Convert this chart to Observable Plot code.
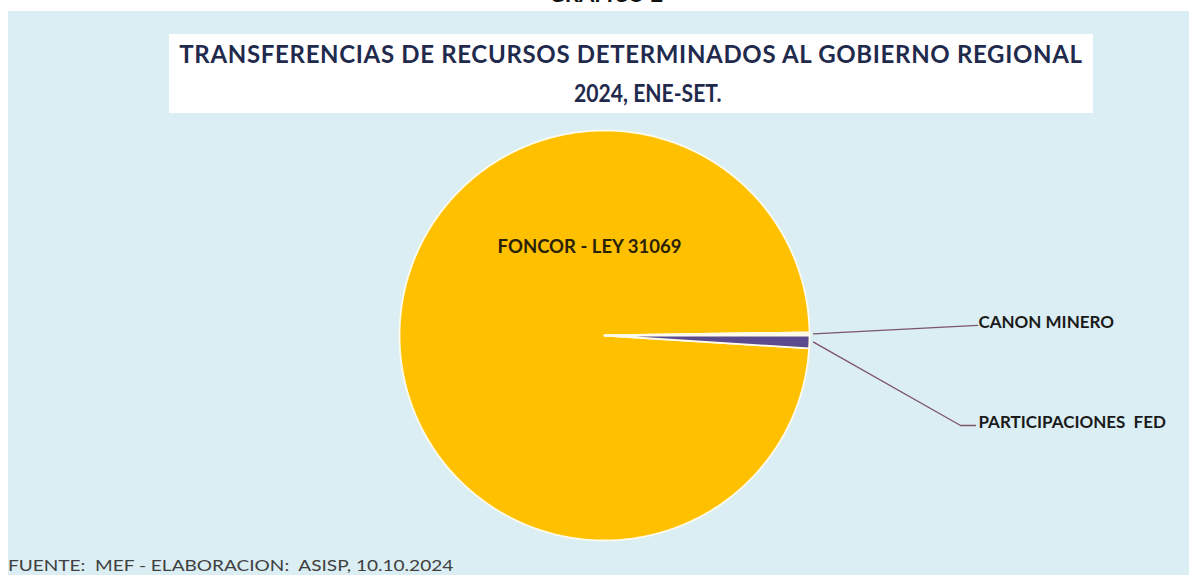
<!DOCTYPE html>
<html>
<head>
<meta charset="utf-8">
<script src="https://cdn.jsdelivr.net/npm/d3@7"></script>
<script src="https://cdn.jsdelivr.net/npm/@observablehq/plot@0.6"></script>
<style>
  body { margin: 0; background: #ffffff; font-family: Lato, "Open Sans", sans-serif; }
  #page { position: relative; width: 1189px; height: 575px; overflow: hidden; background: #fff; }
  #panel { position: absolute; left: 8px; top: 11px; right: 0; bottom: 0; background: #DAEEF3; }
  #grafico { position: absolute; left: 0; width: 1212px; top: -17.5px; line-height: 22px; text-align: center; font-weight: bold; font-size: 22px; color: #111; }
  #titlebox { position: absolute; left: 169px; top: 34px; width: 924px; height: 79px; background: #ffffff; }
  .t { position: absolute; left: 0; width: 100%; text-align: center; font-weight: bold; color: #1f2a4d; white-space: nowrap; }
  #t1 { top: 7.7px; font-size: 24px; line-height: 24px; letter-spacing: 0.67px; }
  #t2 { top: 46.5px; font-size: 24px; line-height: 24px; padding-left: 34px; box-sizing: border-box; }
  #t2 span { display: inline-block; transform: scaleX(0.88); transform-origin: 50% 50%; }
  #foot { position: absolute; left: 8px; top: 556.8px; font-size: 16px; line-height: 16px; color: #404040; white-space: pre; transform: scaleX(1.19); transform-origin: 0 0; }
  #chart { position: absolute; left: 0; top: 0; }
</style>
</head>
<body>
<div id="page">
  <div id="panel"></div>
  <div id="grafico">GRAFICO 2</div>
  <div id="titlebox">
    <div class="t" id="t1">TRANSFERENCIAS DE RECURSOS DETERMINADOS AL GOBIERNO REGIONAL</div>
    <div class="t" id="t2"><span>2024, ENE-SET.</span></div>
  </div>
  <div id="chart"></div>
  <div id="foot">FUENTE:  MEF - ELABORACION:  ASISP, 10.10.2024</div>
</div>
<script>
// ---- data ----
const categories = ["FONCOR - LEY 31069", "CANON MINERO", "PARTICIPACIONES  FED"];
const values = [98.75, 0.25, 1.0];
const colors = ["#FFC000", "#FBF6E2", "#5B4A8E"];

// ---- layout (pie geometry in px, label anchors in pie-radius units) ----
const W = 1189, H = 575, CX = 604, CY = 335, R = 205;
const firstSliceAngle = 93.6; // degrees clockwise from 12 o'clock
const labelAnchors = [
  {x: -0.073, y: 0.43, anchor: "middle", leader: null},
  {x: 1.824, y: 0.063, anchor: "start", leader: [[1.82, 0.049]]},
  {x: 1.824, y: -0.424, anchor: "start", leader: [[1.737, -0.439], [1.81, -0.439]]}
];

const total = d3.sum(values);
let acc = firstSliceAngle;
const slices = categories.map((name, i) => {
  const a0 = acc, a1 = acc + values[i] / total * 360;
  acc = a1;
  return {name, value: values[i], color: colors[i], a0, a1, mid: (a0 + a1) / 2};
});

const toXY = (deg, r) => {
  const t = deg * Math.PI / 180;
  return {x: r * Math.sin(t), y: r * Math.cos(t)};
};

const sliceMarks = slices.map(s => {
  const n = Math.max(3, Math.ceil((s.a1 - s.a0) / 0.5));
  const pts = [{x: 0, y: 0}];
  for (let k = 0; k <= n; k++) pts.push(toXY(s.a0 + (s.a1 - s.a0) * k / n, 1));
  pts.push({x: 0, y: 0});
  return Plot.line(pts, {x: "x", y: "y", fill: s.color, stroke: "#FFFBEA", strokeWidth: 1.8, strokeLinejoin: "round", curve: "linear"});
});

const leaderMarks = slices.map((s, i) => {
  const la = labelAnchors[i];
  if (!la.leader) return null;
  const pts = [toXY(s.mid, 1.02), ...la.leader.map(([x, y]) => ({x, y}))];
  return Plot.line(pts, {x: "x", y: "y", stroke: "#7E5467", strokeWidth: 1.3});
}).filter(Boolean);

const labelData = slices.map((s, i) => ({name: s.name, ...labelAnchors[i]}));

const chart = Plot.plot({
  width: W, height: H,
  margin: 0,
  x: {domain: [-CX / R, (W - CX) / R], axis: null},
  y: {domain: [-(H - CY) / R, CY / R], axis: null},
  style: {background: "transparent", overflow: "visible"},
  marks: [
    ...sliceMarks,
    ...leaderMarks,
    Plot.text(labelData.filter(d => d.anchor === "middle"), {x: "x", y: "y", text: "name", textAnchor: "middle", fontSize: 18.5, fontWeight: "bold", fill: "#2a2208", fontFamily: "Lato", letterSpacing: "0.9px"}),
    Plot.text(labelData.filter(d => d.anchor === "start"), {x: "x", y: "y", text: "name", textAnchor: "start", fontSize: 17, fontWeight: "bold", fill: "#1a1a1a", fontFamily: "Lato", letterSpacing: "0.5px"})
  ]
});
document.getElementById("chart").appendChild(chart);
</script>
</body>
</html>
